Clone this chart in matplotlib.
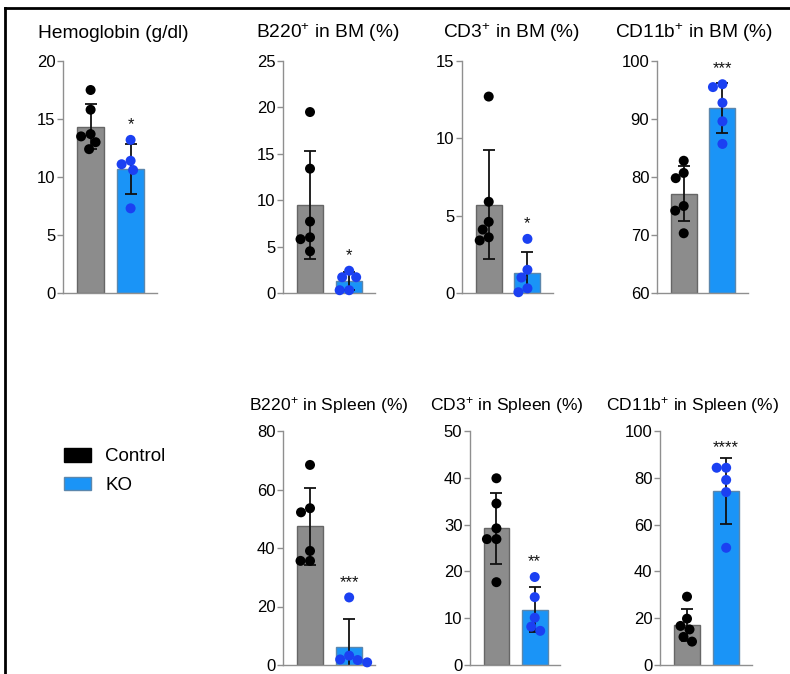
import numpy as np
import matplotlib
matplotlib.use("Agg")
import matplotlib.pyplot as plt
from matplotlib.lines import Line2D
from matplotlib.patches import Patch

plt.rcParams['font.family'] = ['Liberation Sans', 'DejaVu Sans']
plt.rcParams['mathtext.fontset'] = 'custom'
plt.rcParams['mathtext.rm'] = 'Liberation Sans'
plt.rcParams['mathtext.default'] = 'rm'

# ---------------- data ----------------
groups = ["Control", "KO"]

titles = ["Hemoglobin (g/dl)", "B220$^{+}$ in BM (%)", "CD3$^{+}$ in BM (%)",
          "CD11b$^{+}$ in BM (%)", "B220$^{+}$ in Spleen (%)",
          "CD3$^{+}$ in Spleen (%)", "CD11b$^{+}$ in Spleen (%)"]

hgb_ctrl = [17.5, 15.8, 13.7, 13.5, 13.0, 12.4]
hgb_ko = [13.2, 11.4, 11.1, 10.6, 7.3]
b220bm_ctrl = [19.5, 13.4, 7.7, 6.0, 5.8, 4.5]
b220bm_ko = [2.4, 1.7, 1.7, 0.3, 0.3]
cd3bm_ctrl = [12.7, 5.9, 4.6, 4.1, 3.6, 3.4]
cd3bm_ko = [3.5, 1.5, 1.0, 0.3, 0.05]
cd11bm_ctrl = [82.8, 80.7, 79.8, 75.0, 74.2, 70.3]
cd11bm_ko = [96.0, 95.5, 92.8, 89.6, 85.7]
b220sp_ctrl = [68.4, 53.6, 52.2, 39.0, 35.6, 35.6]
b220sp_ko = [23.1, 3.2, 1.9, 1.7, 0.9]
cd3sp_ctrl = [39.9, 34.5, 29.2, 26.9, 26.9, 17.7]
cd3sp_ko = [18.8, 14.5, 10.1, 8.2, 7.3]
cd11sp_ctrl = [29.2, 19.8, 16.7, 15.2, 12.0, 10.0]
cd11sp_ko = [84.3, 84.3, 79.1, 73.9, 50.1]

ctrl_sets = [hgb_ctrl, b220bm_ctrl, cd3bm_ctrl, cd11bm_ctrl, b220sp_ctrl, cd3sp_ctrl, cd11sp_ctrl]
ko_sets = [hgb_ko, b220bm_ko, cd3bm_ko, cd11bm_ko, b220sp_ko, cd3sp_ko, cd11sp_ko]

yticks = [[0, 5, 10, 15, 20], [0, 5, 10, 15, 20, 25], [0, 5, 10, 15],
          [60, 70, 80, 90, 100], [0, 20, 40, 60, 80], [0, 10, 20, 30, 40, 50],
          [0, 20, 40, 60, 80, 100]]

signif = ["*", "*", "*", "***", "***", "**", "****"]

# ---------------- style ----------------
W, H = 790, 674
ctrl_bar = "#8c8c8c"
ctrl_edge = "#666666"
ko_bar = "#1a94f7"
ko_edge = "#5b87ad"
ctrl_pt = "black"
ko_pt = "#1b40f2"
spine_c = "#8f8f8f"
PT_D = 10.0  # marker diameter in px

# axes rectangles in pixels (x0, x1, ytop, ybot)
rects = [(63, 157, 61, 293), (283, 375, 61, 293), (462, 553, 61, 293),
         (657, 748, 61, 293), (283, 375, 431, 665), (470, 560, 431, 665),
         (660, 752, 431, 665)]
# title centre positions in pixels (x, y) and font sizes
title_pos = [(113, 33), (328, 33), (511, 33), (694, 33),
             (329, 406), (507, 406), (693, 406)]
title_fs = [13.8, 13.8, 13.8, 13.8, 12.6, 12.6, 12.6]

fig = plt.figure(figsize=(W / 100, H / 100), dpi=100)


def swarm(vals, px_per_unit, d):
    """Simple beeswarm: returns x offsets (in px) so that markers do not overlap."""
    order = np.argsort(-np.asarray(vals))
    placed = []
    offs = np.zeros(len(vals))
    for i in order:
        y = vals[i] * px_per_unit
        cands = [0.0]
        for k in np.arange(0.5, 40, 0.5):
            cands += [-k, k]
        for c in cands:
            ok = all((c - px) ** 2 + (y - py) ** 2 >= (d * 0.95) ** 2 for px, py in placed)
            if ok:
                offs[i] = c
                placed.append((c, y))
                break
    return offs


for i in range(7):
    x0, x1, yt, yb = rects[i]
    ax = fig.add_axes([x0 / W, 1 - yb / H, (x1 - x0) / W, (yb - yt) / H])
    xlim = (-0.69, 1.66)
    ylim = (yticks[i][0], yticks[i][-1])
    ax.set_xlim(*xlim)
    ax.set_ylim(*ylim)
    px_per_x = (x1 - x0) / (xlim[1] - xlim[0])
    px_per_y = (yb - yt) / (ylim[1] - ylim[0])

    sets = [np.array(ctrl_sets[i]), np.array(ko_sets[i])]
    means = [s.mean() for s in sets]
    sds = [s.std(ddof=1) for s in sets]
    base = ylim[0]
    for g in range(2):
        ax.bar(g, means[g] - base, bottom=base, width=0.67,
               color=[ctrl_bar, ko_bar][g], edgecolor=[ctrl_edge, ko_edge][g],
               linewidth=1.0, zorder=1)
        ax.errorbar(g, means[g], yerr=sds[g], fmt='none', ecolor='#111111',
                    elinewidth=1.3, capsize=4, capthick=1.3, zorder=2)
        offs = swarm(sets[g], px_per_y, PT_D)
        ax.scatter(g + offs / px_per_x, sets[g], s=(PT_D * 0.72) ** 2,
                   color=[ctrl_pt, ko_pt][g], edgecolor='none', zorder=3,
                   clip_on=False)

    # significance label above KO
    top_err = means[1] + sds[1]
    top_pt = sets[1].max() + (PT_D / 2) / px_per_y
    top = max(top_err, top_pt)
    ax.annotate(signif[i], xy=(1, top), xytext=(0, 2), textcoords='offset points',
                ha='center', va='bottom', fontsize=12, color='#111111')

    ax.set_yticks(yticks[i])
    ax.set_xticks([])
    for s in ['top', 'right']:
        ax.spines[s].set_visible(False)
    for s in ['left', 'bottom']:
        ax.spines[s].set_color(spine_c)
        ax.spines[s].set_linewidth(1.0)
    ax.tick_params(axis='y', colors=spine_c, labelcolor='black', length=4,
                   width=1.0, labelsize=12, pad=1.5)
    tx, ty = title_pos[i]
    fig.text(tx / W, 1 - ty / H, titles[i], fontsize=title_fs[i],
             ha='center', va='center')

# legend
handles = [Patch(facecolor=ctrl_pt, edgecolor='black'),
           Patch(facecolor=ko_bar, edgecolor=ko_edge)]
fig.legend(handles, groups, loc='center left', bbox_to_anchor=(64 / W, 1 - 471 / H),
           frameon=False, fontsize=13.5, handlelength=1.45, handleheight=0.75,
           handletextpad=0.75, labelspacing=0.6, borderpad=0, borderaxespad=0)

# border lines (left and top)
fig.add_artist(Line2D([5 / W, 5 / W], [0, 1 - 8 / H], transform=fig.transFigure,
                      color='black', linewidth=2))
fig.add_artist(Line2D([5 / W, 1], [1 - 8 / H, 1 - 8 / H], transform=fig.transFigure,
                      color='black', linewidth=2))

fig.savefig("out.png", dpi=100, facecolor='white')
